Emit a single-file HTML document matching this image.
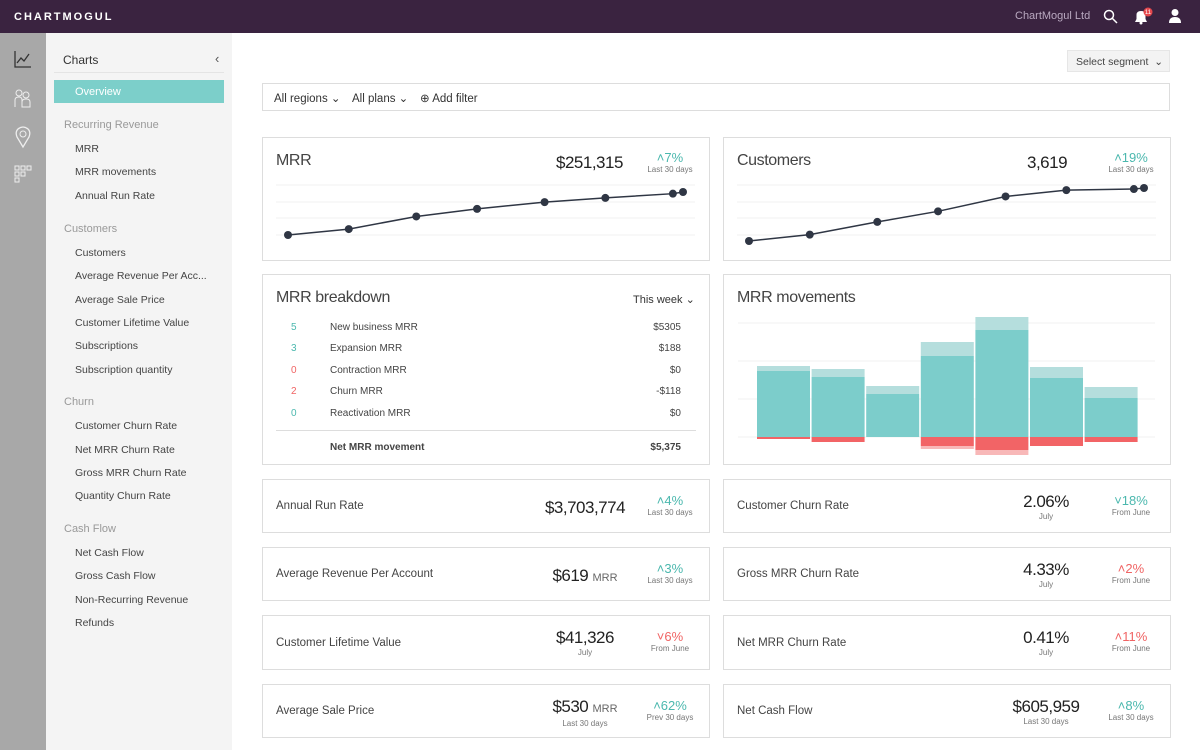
<!DOCTYPE html>
<html><head><meta charset="utf-8"><style>
*{box-sizing:border-box;margin:0;padding:0}
body{width:1200px;height:750px;overflow:hidden;font-family:"Liberation Sans",sans-serif;color:#444;background:#fff;position:relative}
.a{position:absolute}
.top{left:0;top:0;width:1200px;height:33px;background:#3a2340}
.rail{left:0;top:33px;width:46px;height:717px;background:#a8a8a8}
.side{left:46px;top:33px;width:186px;height:717px;background:#f4f4f4}
.side .h{position:absolute;left:18px;font-size:11px;color:#999}
.side .i{position:absolute;left:29px;font-size:10.5px;color:#444}
.card{position:absolute;border:1px solid #ddd;background:#fff}
.ttl{position:absolute;left:13px;font-size:16px;color:#444;letter-spacing:-0.4px}
.lbl{position:absolute;left:13px;top:0;bottom:0;display:flex;align-items:center;font-size:11.5px;color:#444}
.val{position:absolute;right:74px;width:100px;text-align:center;top:12px;font-size:17px;color:#222;line-height:20px;letter-spacing:-0.5px}
.val small{display:block;font-size:8px;color:#777;line-height:10px;letter-spacing:0}
.val em{font-style:normal;font-size:11px;color:#666;letter-spacing:0}
.dl{position:absolute;right:4px;width:70px;text-align:center;top:14px;font-size:13px;line-height:14px}
.dl small{display:block;font-size:8px;color:#777;line-height:10px}
.g{color:#4bb8ae}.r{color:#f06464}
.br{position:absolute;font-size:10px}
</style></head><body>
<div class="a top">
 <div class="a" style="left:14px;top:11px;font-size:11px;font-weight:bold;letter-spacing:2px;color:#fff">CHARTMOGUL</div>
 <div class="a" style="left:1015px;top:10px;font-size:11px;color:#b9a9c0">ChartMogul Ltd</div>
 <svg class="a" style="left:1103px;top:9px" width="16" height="16"><circle cx="6" cy="6" r="4.5" stroke="#fff" stroke-width="1.5" fill="none"/><line x1="9.5" y1="9.5" x2="14" y2="14" stroke="#fff" stroke-width="1.5"/></svg>
 <svg class="a" style="left:1133px;top:7px" width="20" height="18"><path d="M2 15 L14 15 L12.5 12 L12.5 8 Q12.5 4 8 4 Q3.5 4 3.5 8 L3.5 12 Z" fill="#fff"/><circle cx="8" cy="16" r="1.5" fill="#fff"/><circle cx="15" cy="5" r="4.5" fill="#e5484d"/><text x="15" y="7" font-size="6" fill="#fff" text-anchor="middle">11</text></svg>
 <svg class="a" style="left:1168px;top:8px" width="14" height="16"><circle cx="7" cy="4.5" r="3.5" fill="#fff"/><path d="M1 15 Q1 9 7 9 Q13 9 13 15 Z" fill="#fff"/></svg>
</div>
<div class="a rail">
 <svg class="a" style="left:13px;top:16px" width="20" height="20"><path d="M2 2 V18 H18" stroke="#333" fill="none" stroke-width="1.3"/><path d="M4 14 L8 9 L11 12 L16 5" stroke="#333" fill="none" stroke-width="1.3"/></svg>
 <svg class="a" style="left:14px;top:55px" width="18" height="20"><circle cx="5" cy="5" r="3" stroke="#eee" fill="none"/><circle cx="12" cy="7" r="3" stroke="#eee" fill="none"/><path d="M1 19 V12 Q1 9 5 9 Q8 9 8 12 V19 M8 19 V14 Q8 11 12 11 Q16 11 16 14 V19 Z" stroke="#eee" fill="none"/></svg>
 <svg class="a" style="left:14px;top:92px" width="18" height="24"><path d="M9 22 L3 12 Q1 7 4 4 Q9 0 14 4 Q17 7 15 12 Z" stroke="#eee" fill="none" stroke-width="1.3"/><circle cx="9" cy="9" r="3" stroke="#eee" fill="none"/></svg>
 <svg class="a" style="left:14px;top:132px" width="20" height="20"><g stroke="#eee" fill="none"><rect x="1" y="1" width="4" height="4"/><rect x="7" y="1" width="4" height="4"/><rect x="13" y="1" width="4" height="4"/><rect x="1" y="7" width="4" height="4"/><rect x="7" y="7" width="4" height="4"/><rect x="1" y="13" width="4" height="4"/></g></svg>
</div>
<div class="a side">
 <div class="a" style="left:17px;top:20px;font-size:12px;color:#333">Charts</div>
 <div class="a" style="left:169px;top:18px;font-size:13px;color:#555">‹</div>
 <div class="a" style="left:8px;top:39px;width:170px;height:1px;background:#e4e4e4"></div>
 <div class="a" style="left:8px;top:47px;width:170px;height:23px;background:#7ccfca;color:#fff;font-size:11px;padding:6px 0 0 21px">Overview</div>
 <div class="h" style="top:86px">Recurring Revenue</div>
 <div class="i" style="top:110px">MRR</div>
 <div class="i" style="top:133px">MRR movements</div>
 <div class="i" style="top:157px">Annual Run Rate</div>
 <div class="h" style="top:190px">Customers</div>
 <div class="i" style="top:214px">Customers</div>
 <div class="i" style="top:237px">Average Revenue Per Acc...</div>
 <div class="i" style="top:261px">Average Sale Price</div>
 <div class="i" style="top:284px">Customer Lifetime Value</div>
 <div class="i" style="top:307px">Subscriptions</div>
 <div class="i" style="top:331px">Subscription quantity</div>
 <div class="h" style="top:363px">Churn</div>
 <div class="i" style="top:387px">Customer Churn Rate</div>
 <div class="i" style="top:411px">Net MRR Churn Rate</div>
 <div class="i" style="top:434px">Gross MRR Churn Rate</div>
 <div class="i" style="top:457px">Quantity Churn Rate</div>
 <div class="h" style="top:490px">Cash Flow</div>
 <div class="i" style="top:514px">Net Cash Flow</div>
 <div class="i" style="top:537px">Gross Cash Flow</div>
 <div class="i" style="top:561px">Non-Recurring Revenue</div>
 <div class="i" style="top:584px">Refunds</div>
</div>

<div class="a" style="left:1067px;top:50px;width:103px;height:22px;background:#f3f3f3;border:1px solid #e6e6e6;font-size:10.5px;color:#444;padding:5px 0 0 8px">Select segment &nbsp;⌄</div>
<div class="card" style="left:262px;top:83px;width:908px;height:28px">
 <div class="a" style="left:11px;top:7px;font-size:11.5px;color:#333">All regions ⌄</div>
 <div class="a" style="left:89px;top:7px;font-size:11.5px;color:#333">All plans ⌄</div>
 <div class="a" style="left:157px;top:7px;font-size:11.5px;color:#333">⊕ Add filter</div>
</div>

<div class="card" style="left:262px;top:137px;width:448px;height:124px">
 <div class="ttl" style="top:14px">MRR</div>
 <div class="a" style="left:293px;top:15px;font-size:17px;color:#222;letter-spacing:-0.5px">$251,315</div>
 <div class="dl g" style="top:13px">˄7%<small>Last 30 days</small></div>
</div>
<div class="card" style="left:723px;top:137px;width:448px;height:124px">
 <div class="ttl" style="top:14px">Customers</div>
 <div class="a" style="left:303px;top:15px;font-size:17px;color:#222;letter-spacing:-0.5px">3,619</div>
 <div class="dl g" style="top:13px">˄19%<small>Last 30 days</small></div>
</div>
<svg class="a" id="lines" style="left:0;top:0" width="1200" height="300"></svg>

<div class="card" style="left:262px;top:274px;width:448px;height:191px">
 <div class="ttl" style="top:14px">MRR breakdown</div>
 <div class="a" style="left:370px;top:18px;font-size:11px;color:#333">This week ⌄</div>
 <div class="br g" style="left:28px;top:47px">5</div><div class="br" style="left:67px;top:47px">New business MRR</div><div class="br" style="right:28px;top:47px">$5305</div>
 <div class="br g" style="left:28px;top:68px">3</div><div class="br" style="left:67px;top:68px">Expansion MRR</div><div class="br" style="right:28px;top:68px">$188</div>
 <div class="br r" style="left:28px;top:90px">0</div><div class="br" style="left:67px;top:90px">Contraction MRR</div><div class="br" style="right:28px;top:90px">$0</div>
 <div class="br r" style="left:28px;top:111px">2</div><div class="br" style="left:67px;top:111px">Churn MRR</div><div class="br" style="right:28px;top:111px">-$118</div>
 <div class="br g" style="left:28px;top:133px">0</div><div class="br" style="left:67px;top:133px">Reactivation MRR</div><div class="br" style="right:28px;top:133px">$0</div>
 <div class="a" style="left:13px;top:155px;width:420px;height:1px;background:#ddd"></div>
 <div class="br" style="left:67px;top:167px;font-weight:bold">Net MRR movement</div><div class="br" style="right:28px;top:167px;font-weight:bold">$5,375</div>
</div>
<div class="card" style="left:723px;top:274px;width:448px;height:191px">
 <div class="ttl" style="top:14px">MRR movements</div>
</div>
<svg class="a" id="bars" style="left:0;top:0" width="1200" height="470"></svg>

<div class="card" style="left:262px;top:479px;width:448px;height:54px"><div class="lbl">Annual Run Rate</div><div class="val" style="top:18px">$3,703,774</div><div class="dl g">˄4%<small>Last 30 days</small></div></div>
<div class="card" style="left:723px;top:479px;width:448px;height:54px"><div class="lbl">Customer Churn Rate</div><div class="val">2.06%<small>July</small></div><div class="dl g">˅18%<small>From June</small></div></div>
<div class="card" style="left:262px;top:547px;width:448px;height:54px"><div class="lbl">Average Revenue Per Account</div><div class="val" style="top:18px">$619 <em>MRR</em></div><div class="dl g">˄3%<small>Last 30 days</small></div></div>
<div class="card" style="left:723px;top:547px;width:448px;height:54px"><div class="lbl">Gross MRR Churn Rate</div><div class="val">4.33%<small>July</small></div><div class="dl r">˄2%<small>From June</small></div></div>
<div class="card" style="left:262px;top:615px;width:448px;height:55px"><div class="lbl">Customer Lifetime Value</div><div class="val">$41,326<small>July</small></div><div class="dl r">˅6%<small>From June</small></div></div>
<div class="card" style="left:723px;top:615px;width:448px;height:55px"><div class="lbl">Net MRR Churn Rate</div><div class="val">0.41%<small>July</small></div><div class="dl r">˄11%<small>From June</small></div></div>
<div class="card" style="left:262px;top:684px;width:448px;height:54px"><div class="lbl">Average Sale Price</div><div class="val">$530 <em>MRR</em><small>Last 30 days</small></div><div class="dl g">˄62%<small>Prev 30 days</small></div></div>
<div class="card" style="left:723px;top:684px;width:448px;height:54px"><div class="lbl">Net Cash Flow</div><div class="val">$605,959<small>Last 30 days</small></div><div class="dl g">˄8%<small>Last 30 days</small></div></div>

<script>
const mrrDays=[0,9,19,28,38,47,57,58.5];
const mrrValues=[200,207,222,231,239,244,249,251];
const custDays=[0,9,19,28,38,47,57,58.5];
const custValues=[3300,3330,3390,3440,3510,3540,3545,3550];
const weeks=["W1","W2","W3","W4","W5","W6","W7"];
const newBiz=[66,60,43,81,107,59,39];
const expansion=[5,8,8,14,13,11,11];
const churn=[2,5,0,9,13,9,5];
const contraction=[0,0,0,3,5,0,0];
const NS="http://www.w3.org/2000/svg";
function mk(p,t,at){const e=document.createElementNS(NS,t);for(const k in at)e.setAttribute(k,at[k]);p.appendChild(e);return e;}
const L=document.getElementById('lines');
function spark(x0,x1,days,vals,vmin,vmax,yBot,yTop,nm){
 [185,202,218,235].forEach(gy=>{const g=mk(L,'line',{x1:x0-12,x2:x1+12,y1:gy,y2:gy,stroke:'#f0f0f0'});
  
  });
 const xs=d=>x0+(d/58.5)*(x1-x0), ys=v=>yBot-(v-vmin)/(vmax-vmin)*(yBot-yTop);
 const pl=mk(L,'polyline',{points:vals.map((v,i)=>xs(days[i])+','+ys(v)).join(' '),fill:'none',stroke:'#2f3644','stroke-width':1.5});
 
 
 vals.forEach((v,i)=>{const c=mk(L,'circle',{cx:xs(days[i]),cy:ys(v),r:4,fill:'#2f3644'});
  
  });
}
spark(288,683,mrrDays,mrrValues,200,251,235,192,'mrr');
spark(749,1144,custDays,custValues,3300,3550,241,188,'customers');
const B=document.getElementById('bars');
const base=437, px=1;
[437,399,361,323].forEach(gy=>{const g=mk(B,'line',{x1:738,x2:1155,y1:gy,y2:gy,stroke:'#f0f0f0'});
 
 });
weeks.forEach((w,i)=>{
 const x=757+i*54.6, bw=53;
 const r1=mk(B,'rect',{x:x,y:base-newBiz[i]*px,width:bw,height:newBiz[i]*px,fill:'#7ccdcb'});
 
 
 const r2=mk(B,'rect',{x:x,y:base-(newBiz[i]+expansion[i])*px,width:bw,height:expansion[i]*px,fill:'#b5dedd'});
 
 
 const r3=mk(B,'rect',{x:x,y:base,width:bw,height:churn[i]*px,fill:'#f26466'});
 
 
 const r4=mk(B,'rect',{x:x,y:base+churn[i]*px,width:bw,height:contraction[i]*px,fill:'#f8b8b8'});
 
 
});
</script>
</body></html>
